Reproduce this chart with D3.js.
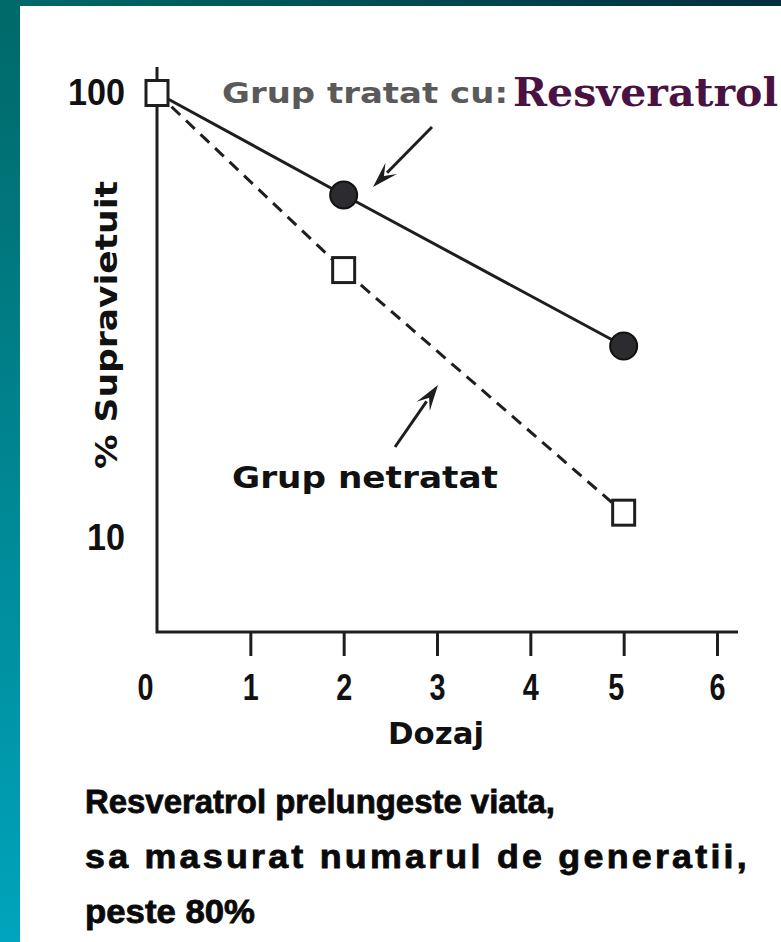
<!DOCTYPE html>
<html>
<head>
<meta charset="utf-8">
<script src="https://cdn.jsdelivr.net/npm/d3@7"></script>
<style>
  html, body { margin: 0; padding: 0; background: #fff; }
  svg { display: block; }
</style>
</head>
<body>
<svg id="chart" width="781" height="942"></svg>
<script>
// ---- data ----
const doses = [0, 2, 5];
const treated = [100, 59, 27];      // Grup tratat cu Resveratrol
const untreated = [100, 40, 11.4];  // Grup netratat
const xTicks = [0, 1, 2, 3, 4, 5, 6];
const yTicks = [10, 100];
const yTickLabels = ["10", "100"];
const xTitle = "Dozaj";
const yTitle = "% Supravietuit";
const caption = ["Resveratrol prelungeste viata,", "sa masurat numarul de generatii,", "peste 80%"];

const svg = d3.select("#chart");
const defs = svg.append("defs");

// background frame
const gl = defs.append("linearGradient").attr("id", "gl").attr("x1", 0).attr("y1", 0).attr("x2", 0).attr("y2", 1);
gl.append("stop").attr("offset", "0%").attr("stop-color", "#006868");
gl.append("stop").attr("offset", "100%").attr("stop-color", "#00a4bc");
const gt = defs.append("linearGradient").attr("id", "gt").attr("x1", 0).attr("y1", 0).attr("x2", 1).attr("y2", 0);
gt.append("stop").attr("offset", "0%").attr("stop-color", "#006a6a");
gt.append("stop").attr("offset", "100%").attr("stop-color", "#002e3c");
svg.append("rect").attr("x", 0).attr("y", 0).attr("width", 781).attr("height", 942).attr("fill", "#fff");
svg.append("rect").attr("x", 0).attr("y", 0).attr("width", 781).attr("height", 6).attr("fill", "url(#gt)");
svg.append("rect").attr("x", 0).attr("y", 0).attr("width", 20).attr("height", 942).attr("fill", "url(#gl)");

// scales
const x = d3.scaleLinear().domain([0, 6]).range([157, 717]);
const y = d3.scaleLog().domain([10, 100]).range([538, 93]);
const axisBottomY = 632, axisTopY = 67, axisRightX = 738;

const ink = "#1e1e1e";
const numFont = "'Liberation Sans', Arial, sans-serif";

// axes lines
svg.append("path")
  .attr("d", `M${x(0)},${axisTopY}V${axisBottomY}H${axisRightX}`)
  .attr("fill", "none").attr("stroke", ink).attr("stroke-width", 3);

// x axis ticks and labels via d3.axisBottom
const xAxis = d3.axisBottom(x).tickValues(xTicks).tickSize(24).tickPadding(18).tickFormat(d3.format("d"));
const gx = svg.append("g").attr("transform", `translate(0,${axisBottomY})`).call(xAxis);
gx.select(".domain").remove();
gx.selectAll(".tick line").attr("stroke", ink).attr("stroke-width", 3)
  .attr("display", d => d === 0 ? "none" : null);
gx.selectAll(".tick text")
  .attr("font-family", numFont).attr("font-weight", "bold").attr("font-size", 36)
  .attr("fill", "#111")
  .attr("textLength", 16).attr("lengthAdjust", "spacingAndGlyphs")
  .attr("dx", d => d === 0 ? -12 : (d === 5 ? -8 : 0));

// y axis labels via d3.axisLeft
const yAxis = d3.axisLeft(y).tickValues(yTicks).tickSize(0).tickPadding(32)
  .tickFormat((d, i) => yTickLabels[i]);
const gy = svg.append("g").attr("transform", `translate(${x(0)},0)`).call(yAxis);
gy.select(".domain").remove();
gy.selectAll(".tick text")
  .attr("font-family", numFont).attr("font-weight", "bold").attr("font-size", 36)
  .attr("fill", "#111")
  .attr("textLength", (d, i) => yTickLabels[i].length * 19).attr("lengthAdjust", "spacingAndGlyphs");

// axis titles
svg.append("text").text(xTitle)
  .attr("x", 436).attr("y", 744).attr("text-anchor", "middle")
  .attr("font-family", "'DejaVu Sans', sans-serif").attr("font-weight", "bold")
  .attr("font-size", 31).attr("fill", "#111")
  .attr("textLength", 96).attr("lengthAdjust", "spacingAndGlyphs");

svg.append("text").text(yTitle)
  .attr("transform", "translate(117,325) rotate(-90)")
  .attr("text-anchor", "middle")
  .attr("font-family", "'DejaVu Sans', sans-serif").attr("font-weight", "bold")
  .attr("font-size", 30).attr("fill", "#111")
  .attr("textLength", 288).attr("lengthAdjust", "spacingAndGlyphs");

// lines
const line = d3.line().x((d, i) => x(doses[i])).y(d => y(d));
svg.append("path").datum(untreated).attr("d", line)
  .attr("fill", "none").attr("stroke", ink).attr("stroke-width", 3)
  .attr("stroke-dasharray", "12,8");
svg.append("path").datum(treated).attr("d", line)
  .attr("fill", "none").attr("stroke", ink).attr("stroke-width", 3);

// markers
svg.append("g").selectAll("circle").data(treated.slice(1)).join("circle")
  .attr("cx", (d, i) => x(doses[i + 1])).attr("cy", d => y(d)).attr("r", 13.5)
  .attr("fill", "#2c2c30").attr("stroke", "#111").attr("stroke-width", 2);
svg.append("g").selectAll("rect").data(untreated).join("rect")
  .attr("x", (d, i) => x(doses[i]) - 11).attr("y", d => y(d) - 12.5)
  .attr("width", 22).attr("height", 25)
  .attr("fill", "#fff").attr("stroke", ink).attr("stroke-width", 3);

// annotations
function arrow(x1, y1, x2, y2) {
  const ang = Math.atan2(y2 - y1, x2 - x1);
  const L = 26, W = 8;
  const bx = x2 - L * Math.cos(ang), by = y2 - L * Math.sin(ang);
  const px = -Math.sin(ang) * W, py = Math.cos(ang) * W;
  svg.append("line").attr("x1", x1).attr("y1", y1).attr("x2", bx + 6 * Math.cos(ang)).attr("y2", by + 6 * Math.sin(ang))
    .attr("stroke", ink).attr("stroke-width", 3);
  svg.append("path")
    .attr("d", `M${x2},${y2}L${bx + px},${by + py}L${bx + 0.4 * L * Math.cos(ang)},${by + 0.4 * L * Math.sin(ang)}L${bx - px},${by - py}Z`)
    .attr("fill", ink);
}
arrow(432, 127, 373, 187);
arrow(395, 447, 438, 385);

svg.append("text").text("Grup tratat cu:")
  .attr("x", 222).attr("y", 103)
  .attr("font-family", "'DejaVu Sans', sans-serif").attr("font-weight", "bold")
  .attr("font-size", 29).attr("fill", "#5a5a5a")
  .attr("textLength", 286).attr("lengthAdjust", "spacingAndGlyphs");
svg.append("text").text("Resveratrol")
  .attr("x", 513).attr("y", 106)
  .attr("font-family", "'DejaVu Serif', serif").attr("font-weight", "bold")
  .attr("font-size", 40).attr("fill", "#4a1242")
  .attr("textLength", 265).attr("lengthAdjust", "spacingAndGlyphs");

svg.append("text").text("Grup netratat")
  .attr("x", 232).attr("y", 488)
  .attr("font-family", "'DejaVu Sans', sans-serif").attr("font-weight", "bold")
  .attr("font-size", 31).attr("fill", "#111")
  .attr("textLength", 266).attr("lengthAdjust", "spacingAndGlyphs");

// caption
const capLens = [470, 665, 170];
const capSpacing = [0, 3, 0];
svg.append("g").selectAll("text").data(caption).join("text")
  .text(d => d)
  .attr("x", 85).attr("y", (d, i) => 813 + i * 55)
  .attr("font-family", "'Liberation Sans', Arial, sans-serif").attr("font-weight", "bold")
  .attr("font-size", 33).attr("fill", "#0a0a0a")
  .attr("stroke", "#0a0a0a").attr("stroke-width", 0.8)
  .attr("letter-spacing", (d, i) => capSpacing[i])
  .attr("textLength", (d, i) => capLens[i]).attr("lengthAdjust", "spacingAndGlyphs");
</script>
</body>
</html>
